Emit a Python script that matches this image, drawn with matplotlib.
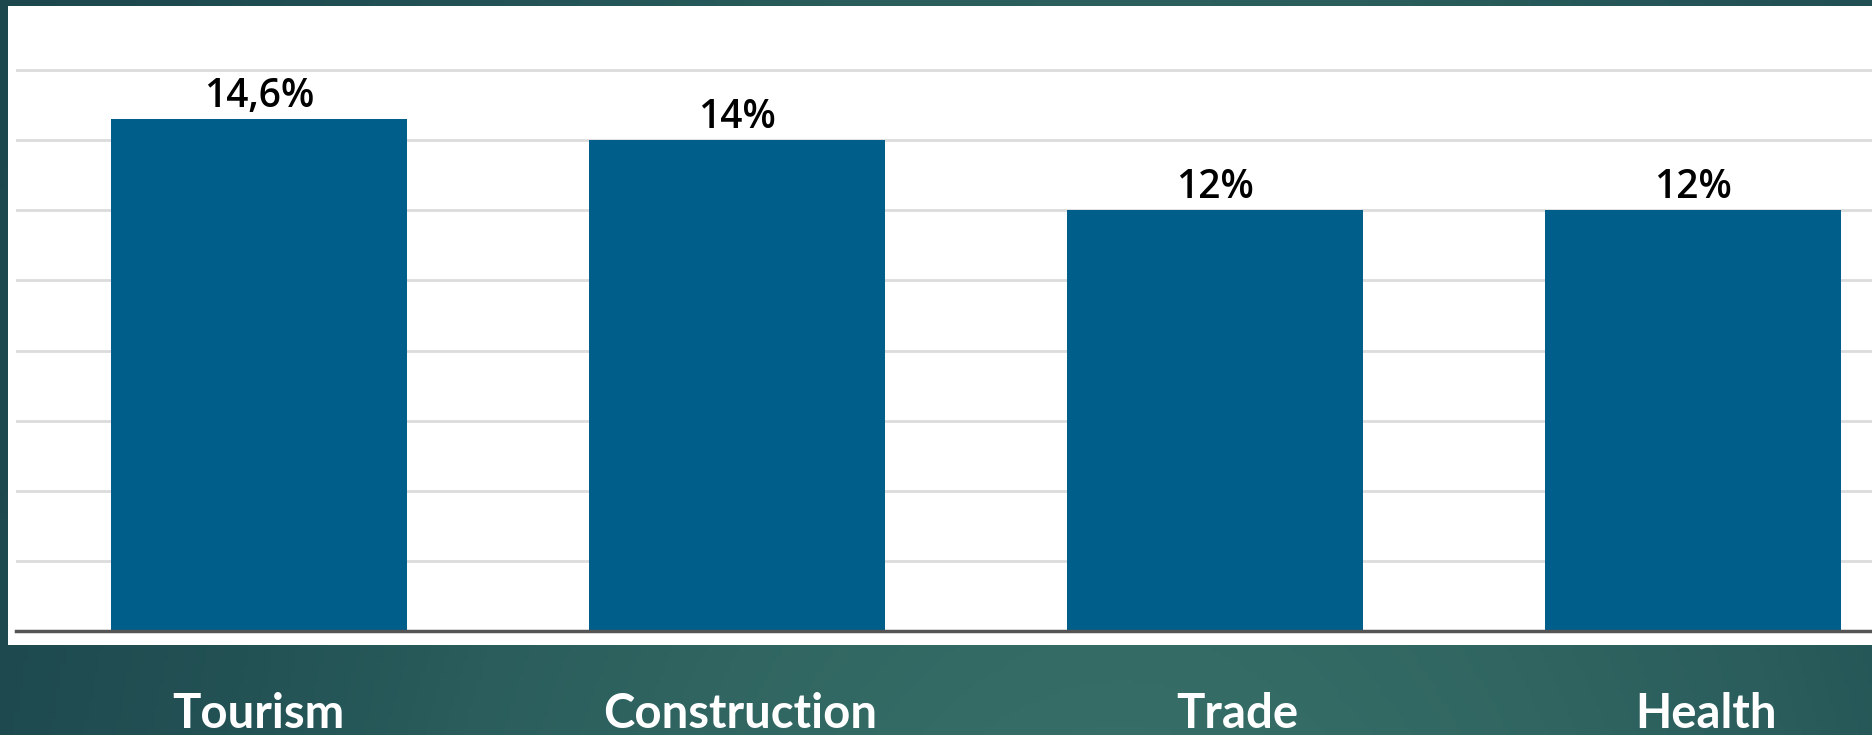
import matplotlib
matplotlib.use("Agg")
import matplotlib.pyplot as plt
import numpy as np
from matplotlib.patches import Rectangle
from matplotlib.colors import LinearSegmentedColormap

# data
sectors = ["Tourism", "Construction", "Trade", "Health"]
shares = [14.6, 14, 12, 12]
value_labels = ["14,6%", "14%", "12%", "12%"]

W, H = 1872, 735
fig = plt.figure(figsize=(W / 100, H / 100), dpi=100)

# slide background: dark teal, lighter towards the middle bottom
bg = fig.add_axes([0, 0, 1, 1])
bg.set_axis_off()
cmap = LinearSegmentedColormap.from_list("slide", ["#1a444b", "#2a5d5c", "#366d66"])
gx, gy = np.meshgrid(np.linspace(0, 1, 400), np.linspace(0, 1, 160))
grad = np.exp(-((gx - 0.6) ** 2) / 0.18) * (0.55 + 0.45 * gy)
bg.imshow(grad, cmap=cmap, aspect="auto", extent=[0, 1, 0, 1], origin="upper",
          vmin=0, vmax=1)
bg.set_xlim(0, 1)
bg.set_ylim(0, 1)

# white chart panel
fig.patches.append(Rectangle((8 / W, (H - 645) / H), 1 - 8 / W, (645 - 6) / H,
                             transform=fig.transFigure, facecolor="white",
                             edgecolor="none", zorder=1))

ax = fig.add_axes([16 / W, (H - 631) / H, 1 - 16 / W, (631 - 6) / H])
ax.set_facecolor("none")
ax.set_zorder(2)

x = np.arange(len(sectors))
ax.bar(x, shares, width=0.62, color="#005e8a", zorder=2)

ax.set_xlim(-0.508, 3.374)
ax.set_ylim(0, 17.83)
ax.set_yticks(np.arange(0, 17, 2))
ax.yaxis.grid(True, color="#dcdcdc", linewidth=2)
ax.set_axisbelow(True)
ax.tick_params(left=False, bottom=False, labelleft=False, labelbottom=False)
for s in ["top", "right", "left"]:
    ax.spines[s].set_visible(False)
ax.spines["bottom"].set_color("#555555")
ax.spines["bottom"].set_linewidth(2.5)

for xi, v, lab in zip(x, shares, value_labels):
    ax.annotate(lab, (xi, v), xytext=(0, 9), textcoords="offset points",
                ha="center", va="baseline", fontsize=28, color="black",
                family="Open Sans", fontweight="semibold", zorder=3)

# category names sit on the slide below the panel
label_shift = [0.0, 0.006, 0.048, 0.027]
for xi, name, dx in zip(x, sectors, label_shift):
    fx = (16 + (xi + dx + 0.508) * 478) / W
    fig.text(fx, 7 / H, name, ha="center", va="baseline", fontsize=34,
             fontweight="bold", color="white", family="Lato", zorder=5)

fig.savefig("out.png", dpi=100)
